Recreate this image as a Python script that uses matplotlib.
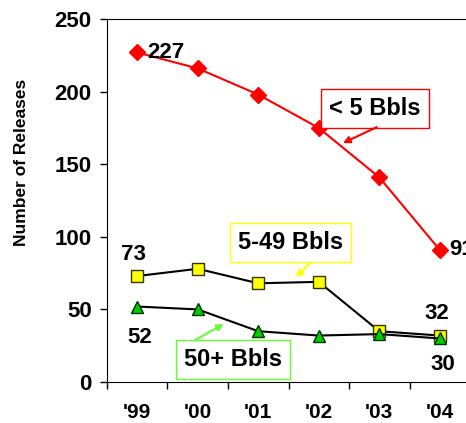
import matplotlib.pyplot as plt

plt.rcParams['font.family'] = ['Liberation Sans', 'DejaVu Sans']
plt.rcParams['font.weight'] = 'bold'

years = ["'99", "'00", "'01", "'02", "'03", "'04"]
small = [227, 216, 198, 175, 141, 91]
mid = [73, 78, 68, 69, 35, 32]
large = [52, 50, 35, 32, 33, 30]

fig = plt.figure(figsize=(4.66, 4.23), dpi=100)
ax = fig.add_axes([0.2296, 0.0969, 0.779, 0.858])
x = list(range(len(years)))

ax.plot(x, small, color='#ff0000', lw=1.5, marker='D', ms=8, mec='#ff0000', mfc='#ff0000', zorder=3)
ax.plot(x, mid, color='black', lw=1.5, marker='s', ms=8.5, mec='#333300', mfc='#ffff00', zorder=3)
ax.plot(x, large, color='black', lw=1.5, marker='^', ms=9, mec='#003300', mfc='#00cc00', zorder=4)

ax.set_xlim(-0.5, 5.5)
ax.set_ylim(0, 250)
ax.set_yticks([0, 50, 100, 150, 200, 250])
ax.set_xticks(x)
ax.set_xticklabels(years, fontsize=15, fontweight='bold')
ax.set_xticks([i - 0.5 for i in range(len(years) + 1)], minor=True)
ax.tick_params(axis='x', which='major', length=0, pad=15)
ax.tick_params(axis='x', which='minor', length=5, width=1, direction='out')
ax.tick_params(axis='y', length=5, width=1, direction='out', labelsize=16, pad=6)
for lab in ax.get_yticklabels():
    lab.set_fontweight('bold')
ax.spines['right'].set_visible(False)
ax.set_ylabel('Number of Releases', fontsize=12.5, fontweight='bold')
ax.yaxis.set_label_coords(-0.215, 0.606)

txt = dict(fontsize=16, fontweight='bold', va='center')
ax.text(0.16, small[0], str(small[0]), ha='left', **txt)
ax.text(5.15, small[5], str(small[5]), ha='left', **txt)
ax.text(-0.06, 88, str(mid[0]), ha='center', **txt)
ax.text(0.04, 31, str(large[0]), ha='center', **txt)
ax.text(4.95, 47.5, str(mid[5]), ha='center', **txt)
ax.text(5.05, 12.4, str(large[5]), ha='center', **txt)

# callout boxes
box = dict(fontsize=17, fontweight='bold', ha='center', va='center')
ax.text(3.93, 188.7, '< 5 Bbls', bbox=dict(boxstyle='square,pad=0.34', fc='white', ec='#ff0000', lw=1), **box)
ax.text(2.53, 96.4, '5-49 Bbls', bbox=dict(boxstyle='square,pad=0.34', fc='white', ec='#ffff00', lw=1), **box)
ax.text(1.58, 15.2, '50+ Bbls', bbox=dict(boxstyle='square,pad=0.34', fc='white', ec='#66ff33', lw=1), **box)

arrow = dict(arrowstyle='-|>', lw=1.5, shrinkA=0, shrinkB=0, mutation_scale=10)
ax.annotate('', xy=(3.40, 164.6), xytext=(3.96, 175.6), arrowprops=dict(color='#ff0000', **arrow))
ax.annotate('', xy=(2.62, 72.3), xytext=(2.84, 81.3), arrowprops=dict(color='#ffff00', **arrow))
ax.annotate('', xy=(1.43, 39.9), xytext=(0.955, 28.9), arrowprops=dict(color='#66ff33', **arrow))

fig.savefig('out.png', dpi=100)
